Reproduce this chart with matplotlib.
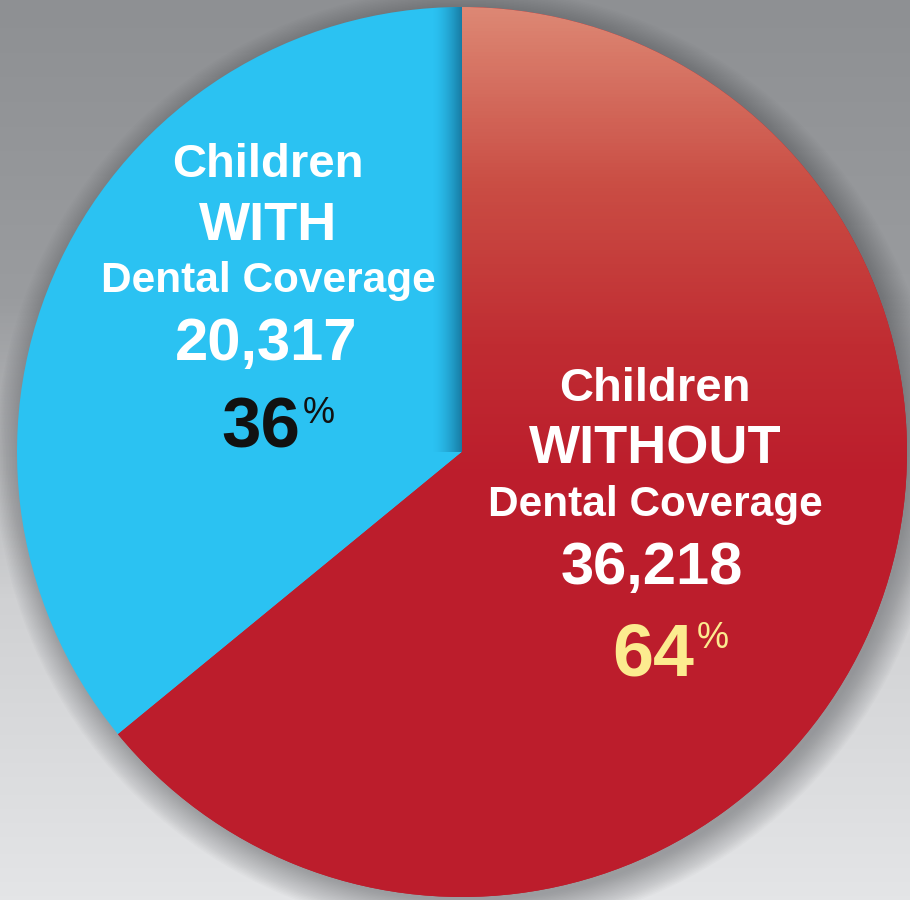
import numpy as np
import matplotlib
matplotlib.use('Agg')
import matplotlib.pyplot as plt
from matplotlib.patches import Circle
from matplotlib.colors import LinearSegmentedColormap

# --- dados ---
categorias = ['Children WITH Dental Coverage', 'Children WITHOUT Dental Coverage']
valores = [20317, 36218]
cores = ['#2BC2F2', '#BC1D2C']

total = sum(valores)
percentuais = [round(v / total * 100) for v in valores]

W, H = 910, 900
fig = plt.figure(figsize=(W / 100, H / 100), dpi=100)
ax = fig.add_axes([0, 0, 1, 1])

# centro e raio em pixels (y para cima)
cx, cy, raio = 462, 448, 445

# --- fundo cinza em degradê ---
fundo = np.linspace(0, 1, 256).reshape(-1, 1)
cmap_fundo = LinearSegmentedColormap.from_list('fundo', ['#E4E5E7', '#D0D1D3', '#9A9C9F', '#8E9093'])
ax.imshow(fundo, extent=[0, W, 0, H], origin='lower', cmap=cmap_fundo, aspect='auto', zorder=0)

# sombra suave em volta da pizza
for i in range(22):
    ax.add_patch(Circle((cx + 6, cy - 8), raio - 4 + i * 1.5, color='#4A4C50',
                        alpha=0.022, lw=0, zorder=1))

# --- pizza ---
wedges, _ = ax.pie(valores, colors=cores, startangle=90, counterclock=True,
                   center=(cx, cy), radius=raio, frame=True,
                   wedgeprops=dict(linewidth=0, zorder=2))
for w in wedges:
    w.set_zorder(2)

# degradê da fatia vermelha (salmão no topo -> vermelho)
grad = np.linspace(0, 1, 256).reshape(-1, 1)
cmap_vermelho = LinearSegmentedColormap.from_list(
    'verm', [(0.0, '#BC1D2C'), (0.47, '#BC1D2C'), (0.62, '#C02C32'),
             (0.8, '#CA4D44'), (1.0, '#DD8874')])
img = ax.imshow(grad, extent=[cx - raio, cx + raio, cy - raio, cy + raio], origin='lower',
                cmap=cmap_vermelho, aspect='auto', zorder=3)
img.set_clip_path(wedges[1])

# faixa escura na borda da fatia azul
faixa = np.zeros((2, 256, 4))
faixa[..., 0] = 0.06
faixa[..., 1] = 0.36
faixa[..., 2] = 0.50
faixa[..., 3] = np.linspace(0, 1, 256) ** 1.6 * 0.7
img2 = ax.imshow(faixa, extent=[cx - 30, cx, cy, cy + raio], origin='lower',
                 aspect='auto', zorder=3)
img2.set_clip_path(wedges[0])

ax.set_xlim(0, W)
ax.set_ylim(0, H)
ax.set_aspect('auto')
ax.axis('off')

fonte = 'Liberation Sans'

def y(px):
    return H - px

# --- textos da fatia azul ---
xa = 268
ax.text(xa, y(177), 'Children', ha='center', va='baseline', color='white',
        fontsize=34, fontweight='bold', family=fonte, zorder=5)
ax.text(xa, y(240), 'WITH', ha='center', va='baseline', color='white',
        fontsize=39, fontweight='bold', family=fonte, zorder=5)
ax.text(xa, y(292), 'Dental Coverage', ha='center', va='baseline', color='white',
        fontsize=30.5, fontweight='bold', family=fonte, zorder=5)
ax.text(xa - 2, y(360), f'{valores[0]:,}', ha='center', va='baseline', color='white',
        fontsize=43, fontweight='bold', family=fonte, zorder=5)
ax.text(300, y(447), f'{percentuais[0]}', ha='right', va='baseline', color='#111111',
        fontsize=51, fontweight='bold', family=fonte, zorder=5)
ax.text(303, y(396), '%', ha='left', va='top', color='#111111',
        fontsize=26, family=fonte, zorder=5)

# --- textos da fatia vermelha ---
xv = 655
ax.text(xv, y(401), 'Children', ha='center', va='baseline', color='white',
        fontsize=34, fontweight='bold', family=fonte, zorder=5)
ax.text(xv, y(464), 'WITHOUT', ha='center', va='baseline', color='white',
        fontsize=39, fontweight='bold', family=fonte, zorder=5)
ax.text(xv, y(516), 'Dental Coverage', ha='center', va='baseline', color='white',
        fontsize=30.5, fontweight='bold', family=fonte, zorder=5)
ax.text(xv - 3, y(584), f'{valores[1]:,}', ha='center', va='baseline', color='white',
        fontsize=43, fontweight='bold', family=fonte, zorder=5)
ax.text(694, y(675), f'{percentuais[1]}', ha='right', va='baseline', color='#FCEB8F',
        fontsize=53, fontweight='bold', family=fonte, zorder=5)
ax.text(697, y(621), '%', ha='left', va='top', color='#FCEB8F',
        fontsize=26, family=fonte, zorder=5)

fig.savefig('out.png', dpi=100)
